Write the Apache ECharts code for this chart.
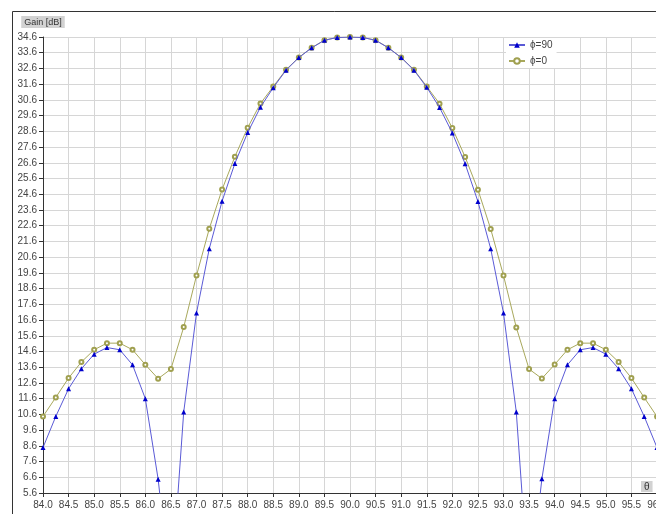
<!DOCTYPE html>
<html>
<head>
<meta charset="utf-8">
<script src="https://cdn.jsdelivr.net/npm/echarts@6/dist/echarts.min.js"></script>
<style>
html,body{margin:0;padding:0;background:#fff;}
#chart{width:656px;height:514px;}
</style>
</head>
<body>
<div id="chart"></div>
<script>
// theta (deg)
var theta = [84.00,84.25,84.50,84.75,85.00,85.25,85.50,85.75,86.00,86.25,86.50,86.75,
  87.00,87.25,87.50,87.75,88.00,88.25,88.50,88.75,89.00,89.25,89.50,89.75,90.00,
  90.25,90.50,90.75,91.00,91.25,91.50,91.75,92.00,92.25,92.50,92.75,93.00,93.25,
  93.50,93.75,94.00,94.25,94.50,94.75,95.00,95.25,95.50,95.75,96.00];
// Gain [dB], phi = 90
var gainPhi90 = [8.49,10.47,12.23,13.50,14.43,14.85,14.71,13.75,11.60,6.48,-0.8,10.75,
  17.05,21.14,24.16,26.56,28.52,30.14,31.38,32.49,33.29,33.91,34.39,34.57,34.60,
  34.57,34.39,33.91,33.29,32.49,31.40,30.12,28.50,26.54,24.14,21.13,17.04,10.75,
  -0.8,6.50,11.60,13.75,14.71,14.85,14.43,13.50,12.23,10.47,8.49];
// Gain [dB], phi = 0
var gainPhi0 = [10.47,11.68,12.91,13.93,14.71,15.13,15.13,14.71,13.76,12.87,13.48,16.15,
  19.43,22.41,24.90,26.99,28.83,30.37,31.45,32.52,33.30,33.92,34.40,34.57,34.60,
  34.57,34.40,33.92,33.30,32.52,31.45,30.36,28.81,26.97,24.89,22.39,19.43,16.13,
  13.48,12.88,13.77,14.71,15.13,15.13,14.71,13.93,12.91,11.67,10.46];
var seriesNames = ['\u03D5=90','\u03D5=0'];

function pairs(xs, ys){ return xs.map(function(x,i){ return [x, ys[i]]; }); }

var chart = echarts.init(document.getElementById('chart'), null, {renderer:'canvas'});
var labelFont = {fontSize:10, color:'#444', fontFamily:'Liberation Sans, Arial, sans-serif'};
chart.setOption({
  backgroundColor:'#ffffff',
  animation:false,
  grid:{left:43, top:37, width:614, height:456, containLabel:false, outerBoundsMode:'none'},
  xAxis:{
    type:'value', min:84, max:96, interval:0.5,
    axisLine:{show:true, onZero:false, lineStyle:{color:'#333', width:1}},
    axisTick:{show:true, length:4, lineStyle:{color:'#333'}},
    axisLabel:Object.assign({margin:7, formatter:function(v){return v.toFixed(1);}}, labelFont),
    splitLine:{show:true, lineStyle:{color:'#d6d6d6', width:1}}
  },
  yAxis:{
    type:'value', min:5.6, max:34.6, interval:1,
    name:'Gain [dB]', nameLocation:'end', nameGap:9,
    nameTextStyle:{fontSize:9, color:'#333', backgroundColor:'#d2d2d2', padding:[2,3,1,3], fontFamily:'Liberation Sans, Arial, sans-serif'},
    axisLine:{show:true, onZero:false, lineStyle:{color:'#333', width:1}},
    axisTick:{show:true, length:4, lineStyle:{color:'#333'}},
    axisLabel:Object.assign({margin:6, formatter:function(v){return v.toFixed(1);}}, labelFont),
    splitLine:{show:true, lineStyle:{color:'#d6d6d6', width:1}}
  },
  legend:{
    orient:'vertical', left:506, top:38, itemGap:6, itemWidth:16, itemHeight:7,
    data:seriesNames,
    textStyle:{fontSize:10, color:'#444', fontFamily:'Liberation Sans, Arial, sans-serif'},
    backgroundColor:'#ffffff', padding:[2,4,2,2]
  },
  graphic:[
    {type:'rect', shape:{x:12.5, y:11.5, width:700, height:600}, style:{fill:'none', stroke:'#333', lineWidth:1}, silent:true, z:100},
    {type:'text', left:641, top:481, style:{text:'\u03B8', fontSize:10, fill:'#333', backgroundColor:'#d2d2d2', padding:[1,3,0,3], fontFamily:'Liberation Sans, Arial, sans-serif'}, z:100}
  ],
  series:[
    {
      name:seriesNames[1], type:'line', data:pairs(theta, gainPhi0),
      symbol:'emptyCircle', symbolSize:4, showAllSymbol:true, clip:true,
      lineStyle:{color:'#a8a85c', width:1},
      itemStyle:{color:'#a0a050', borderColor:'#a0a050', borderWidth:1},
      z:2
    },
    {
      name:seriesNames[0], type:'line', data:pairs(theta, gainPhi90),
      symbol:'triangle', symbolSize:5, showAllSymbol:true, clip:true,
      lineStyle:{color:'#5a5ad6', width:1},
      itemStyle:{color:'#0000cc'},
      z:3
    }
  ]
});
</script>
</body>
</html>
